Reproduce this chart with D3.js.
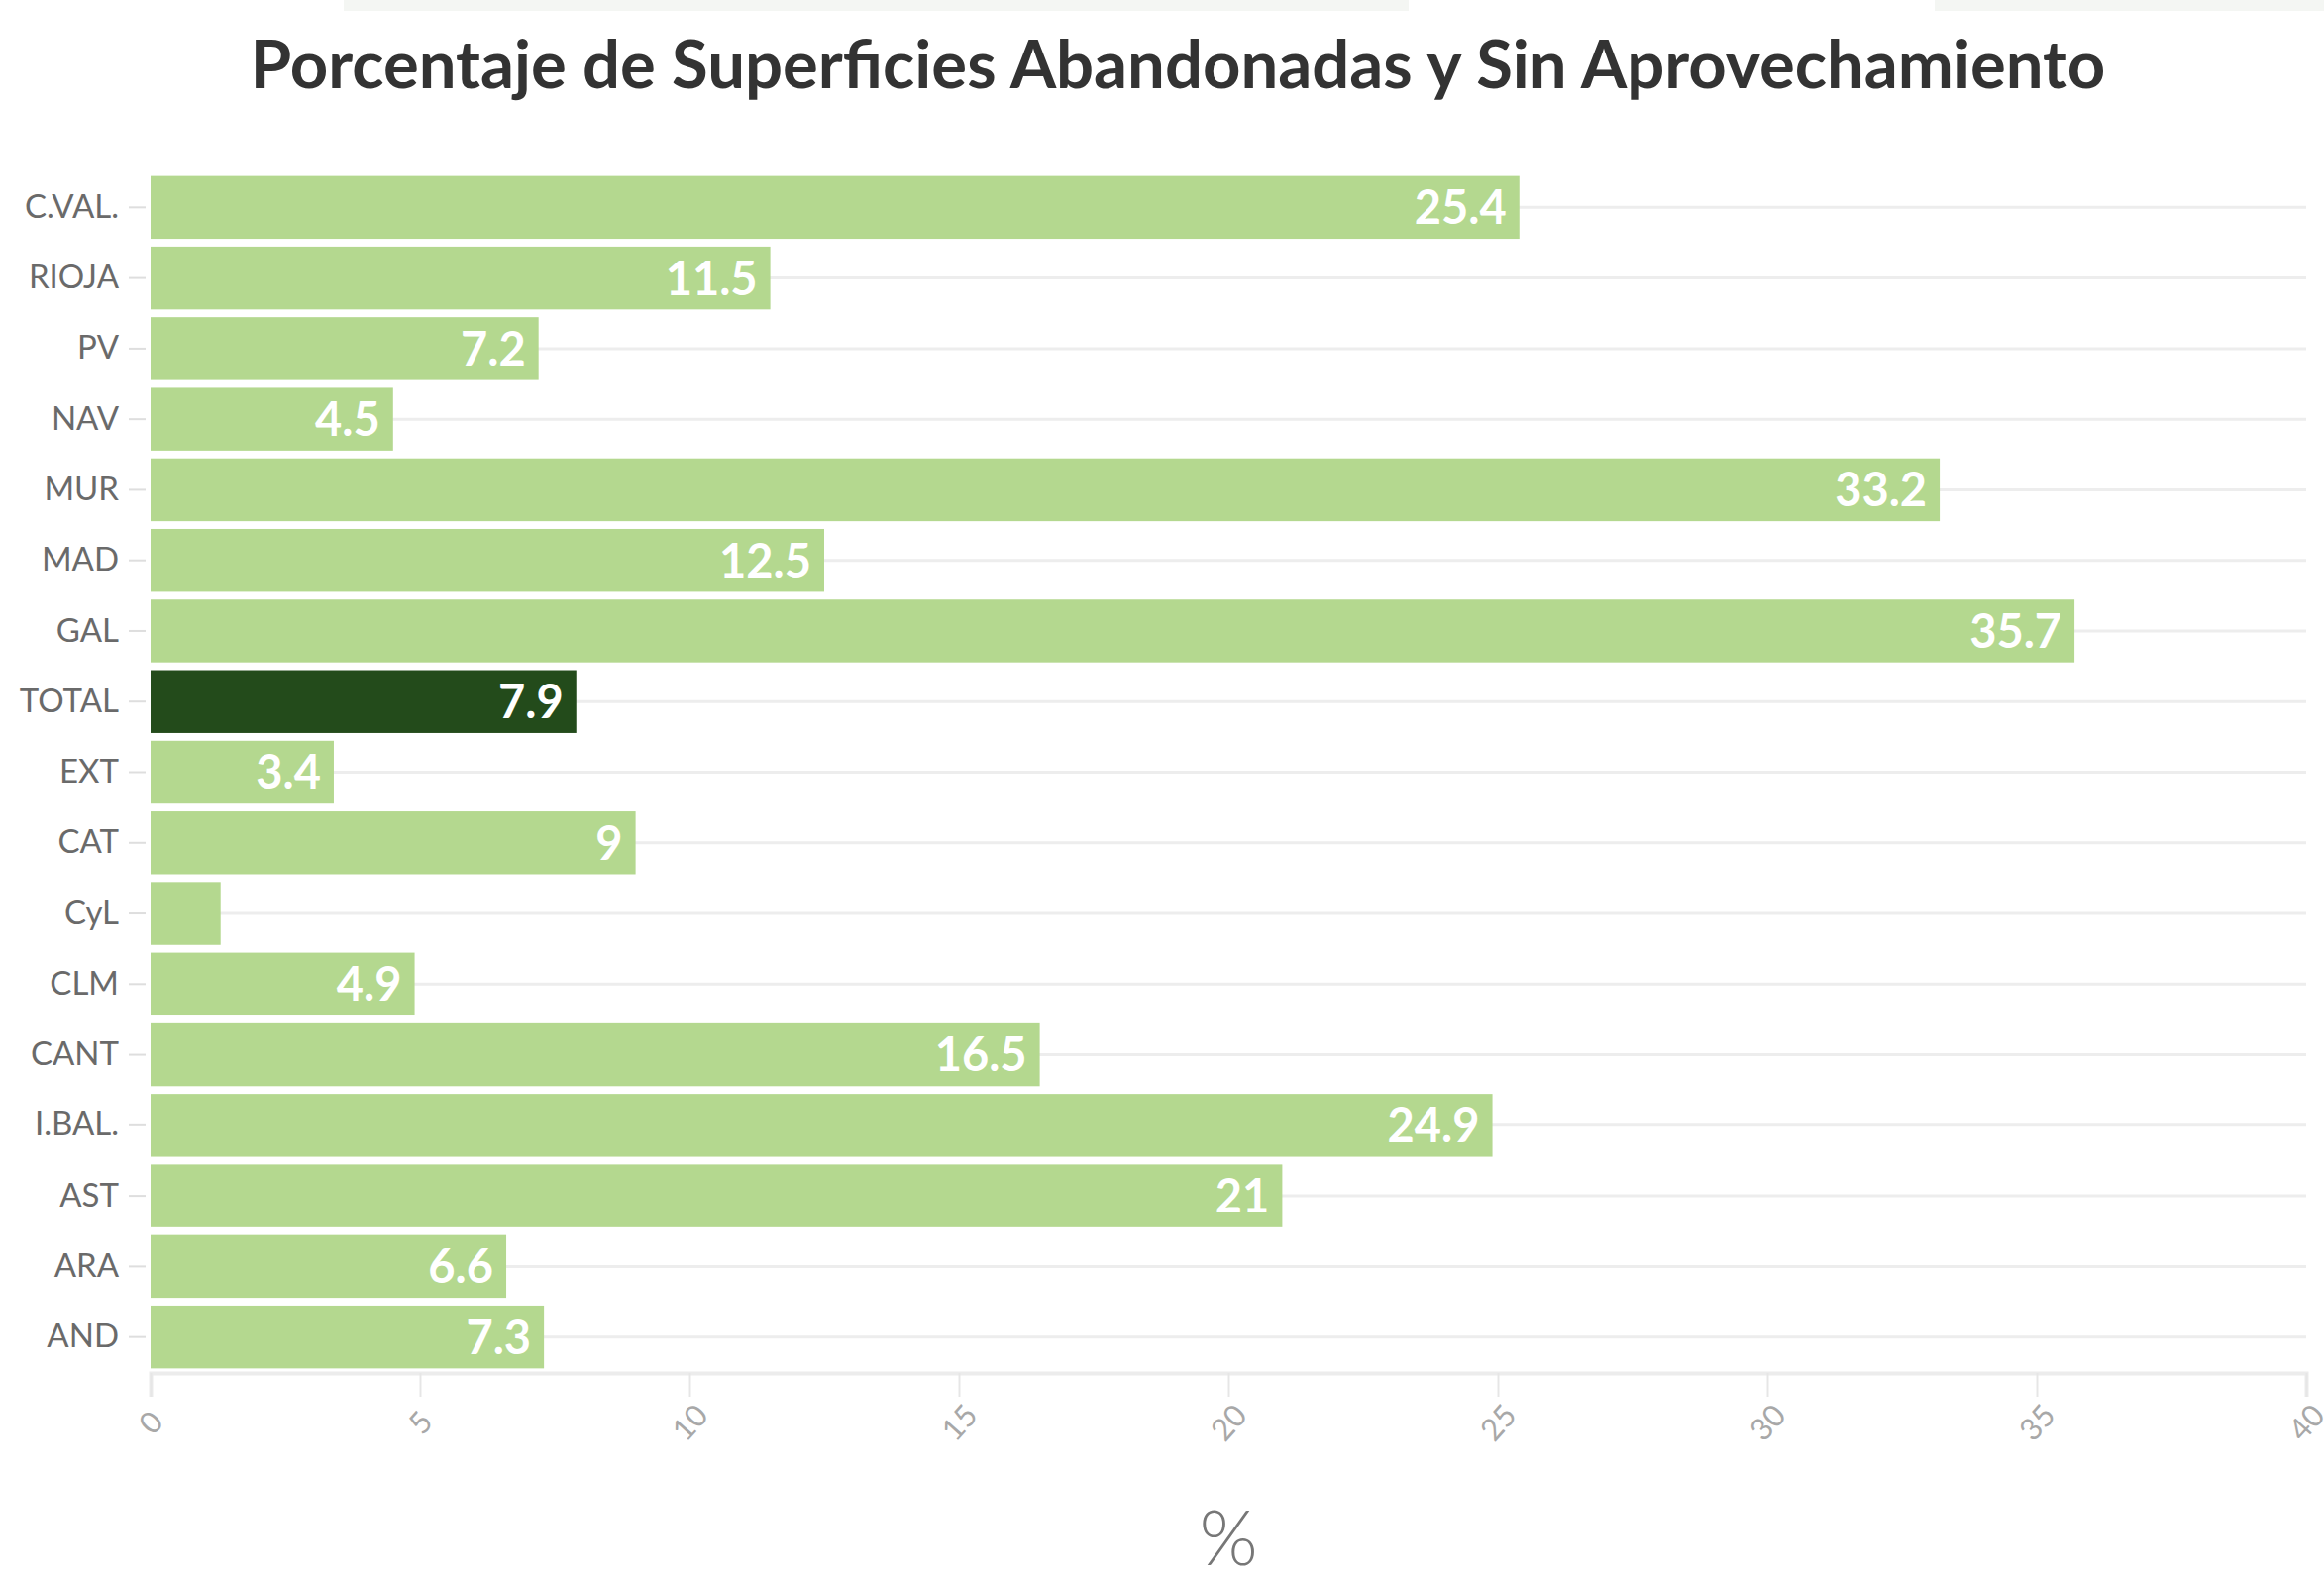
<!DOCTYPE html>
<html>
<head>
<meta charset="utf-8">
<script src="https://cdn.jsdelivr.net/npm/d3@7"></script>
<style>
  body { margin: 0; background: #ffffff; }
  svg { display: block; }
</style>
</head>
<body>
<div class="chart"></div>
<script>
// data, top to bottom as in the chart
var regiones = ["C.VAL.", "RIOJA", "PV", "NAV", "MUR", "MAD", "GAL", "TOTAL", "EXT", "CAT",
                "CyL", "CLM", "CANT", "I.BAL.", "AST", "ARA", "AND"];
var valores = [25.4, 11.5, 7.2, 4.5, 33.2, 12.5, 35.7, 7.9, 3.4, 9,
               1.3, 4.9, 16.5, 24.9, 21, 6.6, 7.3];
var ticksX = [0, 5, 10, 15, 20, 25, 30, 35, 40];
var titulo = "Porcentaje de Superficies Abandonadas y Sin Aprovechamiento";
var ejeX = "%";

var W = 2346, H = 1595;
var margin = {top: 173, right: 16, bottom: 209, left: 152};
var width = W - margin.left - margin.right,
    height = H - margin.top - margin.bottom;

var datos = regiones.map(function (r, i) { return {Region: r, Value: valores[i]}; });

var svg = d3.select(".chart").append("svg")
    .attr("width", W)
    .attr("height", H);

// faint strips at the very top of the screenshot
svg.append("rect").attr("x", 347).attr("y", 0).attr("width", 1075).attr("height", 11).attr("fill", "#f4f6f3");
svg.append("rect").attr("x", 1953).attr("y", 0).attr("width", 393).attr("height", 11).attr("fill", "#f4f6f3");

svg.append("text")
    .attr("x", 1189)
    .attr("y", 89)
    .attr("text-anchor", "middle")
    .style("font-family", "Lato, 'Open Sans', sans-serif")
    .style("font-weight", "bold")
    .style("font-size", "67px")
    .attr("fill", "#333333")
    .text(titulo);

var g = svg.append("g")
    .attr("transform", "translate(" + margin.left + "," + margin.top + ")");

var x = d3.scaleLinear().domain([0, 40]).range([0, width - 2]);
var y = d3.scaleBand().domain(regiones).range([0, height]).paddingInner(0.11).paddingOuter(0.065);

// horizontal grid lines at each category
g.append("g").selectAll("line")
    .data(datos).enter().append("line")
    .attr("x1", 0)
    .attr("x2", x(40))
    .attr("y1", function (d) { return y(d.Region) + y.bandwidth() / 2; })
    .attr("y2", function (d) { return y(d.Region) + y.bandwidth() / 2; })
    .attr("stroke", "#ededed")
    .attr("stroke-width", 3);

// bottom axis
var xAxis = g.append("g")
    .attr("transform", "translate(0," + height + ")")
    .call(d3.axisBottom(x).tickValues(ticksX).tickSize(24).tickPadding(0));
xAxis.select(".domain").attr("stroke", "#ececec").attr("stroke-width", 4);
xAxis.selectAll(".tick line").attr("stroke", "#e6e6e6").attr("stroke-width", 2);
xAxis.selectAll(".tick text")
    .attr("y", 0)
    .attr("transform", "translate(0,50) rotate(-48)")
    .attr("dy", "0.35em")
    .attr("text-anchor", "middle")
    .attr("fill", "#a8a8a8")
    .style("font-family", "Lato, sans-serif")
    .style("font-size", "31px");

// left axis
var yAxis = g.append("g")
    .call(d3.axisLeft(y).tickSize(0).tickPadding(32));
yAxis.select(".domain").remove();
yAxis.selectAll(".tick text")
    .attr("fill", "#6a6a6a")
    .style("font-family", "Lato, sans-serif")
    .style("font-size", "33px");
yAxis.selectAll(".tick").append("line")
    .attr("x1", -22).attr("x2", -5)
    .attr("stroke", "#dedede").attr("stroke-width", 2);

// bars
g.append("g").selectAll("rect")
    .data(datos).enter().append("rect")
    .attr("x", 0)
    .attr("y", function (d) { return y(d.Region); })
    .attr("width", function (d) { return x(d.Value); })
    .attr("height", y.bandwidth())
    .attr("fill", function (d) { return d.Region == "TOTAL" ? "#234b1b" : "#b4d88f"; });

// value labels inside the bars
g.append("g").selectAll("text")
    .data(datos).enter().append("text")
    .attr("x", function (d) { return x(d.Value) - 13; })
    .attr("y", function (d) { return y(d.Region) + y.bandwidth() / 2; })
    .attr("dy", "0.36em")
    .attr("text-anchor", "end")
    .attr("fill", "#ffffff")
    .style("font-family", "Lato, sans-serif")
    .style("font-weight", "bold")
    .style("font-size", "47px")
    .text(function (d) { return d.Value; })
    .each(function (d) {
        if (this.getComputedTextLength() + 20 > x(d.Value)) d3.select(this).remove();
    });

// axis title
svg.append("text")
    .attr("x", margin.left + x(20))
    .attr("y", 1580)
    .attr("text-anchor", "middle")
    .attr("fill", "#777777")
    .style("font-family", "Lato, sans-serif")
    .style("font-weight", "300")
    .style("font-size", "76px")
    .text(ejeX);
</script>
</body>
</html>
